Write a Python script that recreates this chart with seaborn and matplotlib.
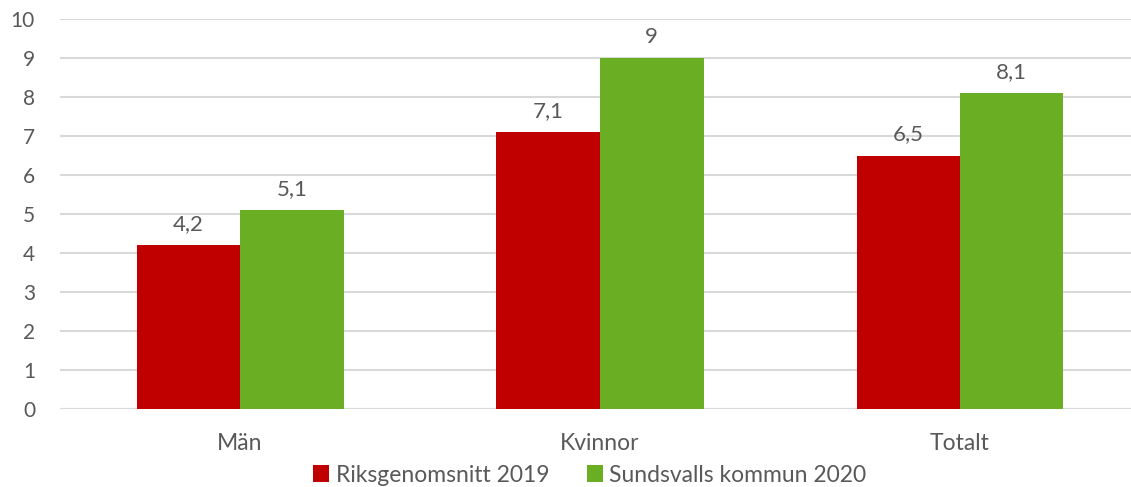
import matplotlib
matplotlib.use("Agg")
import matplotlib.pyplot as plt
import seaborn as sns
import pandas as pd

categories = ["Män", "Kvinnor", "Totalt"]
series_names = ["Riksgenomsnitt 2019", "Sundsvalls kommun 2020"]
riks_2019 = [4.2, 7.1, 6.5]
sundsvall_2020 = [5.1, 9.0, 8.1]
y_ticks = [0, 1, 2, 3, 4, 5, 6, 7, 8, 9, 10]

colors = ["#C00000", "#6AAF23"]
text_color = "#595959"
grid_color = "#D9D9D9"

df = pd.DataFrame({
    "Grupp": categories * 2,
    "Serie": [series_names[0]] * 3 + [series_names[1]] * 3,
    "Värde": riks_2019 + sundsvall_2020,
})

sns.set_theme(style="white")
plt.rcParams["font.family"] = ["Lato", "DejaVu Sans"]

fig = plt.figure(figsize=(11.31, 4.87), dpi=100)
ax = fig.add_axes([60 / 1131, 1 - 409 / 487, 1080 / 1131, 390 / 487])

sns.barplot(data=df, x="Grupp", y="Värde", hue="Serie", order=categories,
            hue_order=series_names, palette=colors, width=0.575, gap=0,
            saturation=1, linewidth=0, ax=ax, legend=True)

ax.set_xlim(-0.5, 2.5)
ax.set_ylim(0, 10)
ax.set_yticks(y_ticks)
ax.yaxis.grid(True, color=grid_color, linewidth=1.5)
ax.set_axisbelow(True)
for s in ax.spines.values():
    s.set_visible(False)
ax.axhline(0, color=grid_color, linewidth=1.5, zorder=0.5)

ax.set_xlabel("")
ax.set_ylabel("")
ax.tick_params(axis="y", length=0, pad=18, labelsize=15, labelcolor=text_color)
ax.tick_params(axis="x", length=0, pad=17, labelsize=16.5, labelcolor=text_color)

for container in ax.containers:
    labels = [f"{v:g}".replace(".", ",") for v in container.datavalues]
    ax.bar_label(container, labels=labels, padding=8, fontsize=16, color=text_color)

handles, lbls = ax.get_legend_handles_labels()
ax.legend(handles, lbls, loc="center", bbox_to_anchor=(590 / 1131, 1 - 475 / 487),
          bbox_transform=fig.transFigure, ncol=2, frameon=False, fontsize=16.5,
          labelcolor=text_color, handlelength=0.7, handleheight=0.7,
          handletextpad=0.3, columnspacing=1.6, borderaxespad=0)

fig.savefig("out.png", dpi=100)
